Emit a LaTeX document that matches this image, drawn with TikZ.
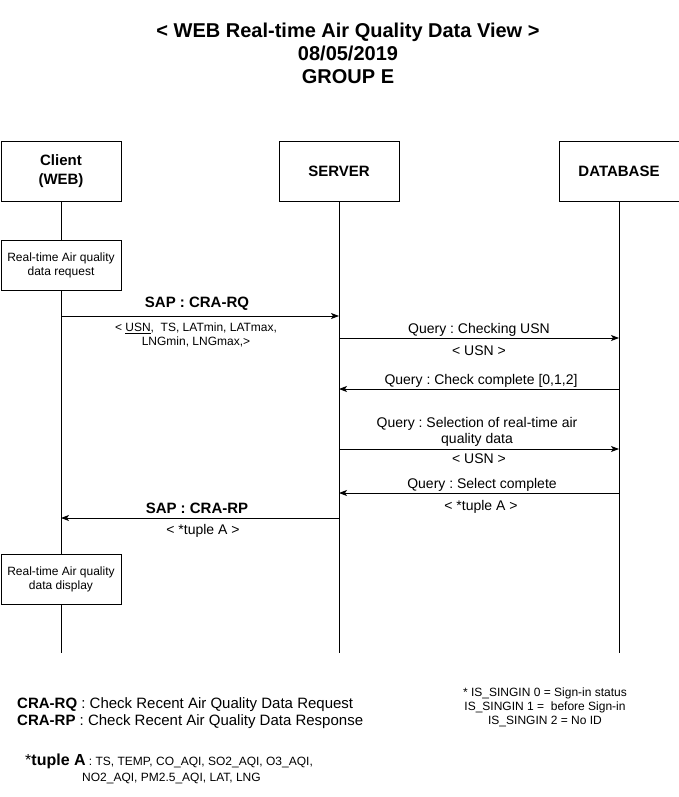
\documentclass[tikz,border=0pt]{standalone}
\usepackage{fontspec}
\setmainfont{Liberation Sans}
\frenchspacing
\usetikzlibrary{arrows.meta,positioning}
\tikzstyle{entity} = [draw, line width=0.8pt, minimum width=120pt, minimum height=60pt, align=center, font=\fontsize{15}{19}\selectfont\bfseries]
\tikzstyle{action} = [draw, line width=0.8pt, fill=white, minimum width=120pt, minimum height=50pt, align=center, font=\fontsize{12}{14}\selectfont]
\tikzstyle{arrow} = [draw, line width=0.8pt, -{Stealth[length=8pt, width=6pt, inset=2pt]}]
\tikzstyle{line} = [draw, line width=0.8pt]
\tikzstyle{msg} = [inner sep=0pt, align=center, font=\fontsize{14}{16}\selectfont]
\tikzstyle{sap} = [inner sep=0pt, font=\fontsize{15}{17}\selectfont\bfseries]
\tikzstyle{param} = [inner sep=0pt, align=center, font=\fontsize{12}{14}\selectfont]

\begin{document}
\begin{tikzpicture}[x=1pt, y=-1pt]
      \useasboundingbox (0,0) rectangle (679,797);

      \node[align=center, font=\fontsize{20}{23}\selectfont\bfseries] (title) at (348,53)
            {< WEB Real-time Air Quality Data View >\\08/05/2019\\GROUP E};

      % lifelines
      \node[entity] (client) at (61,171) {Client\\(WEB)};
      \node[entity] (server) at (339,171) {SERVER};
      \node[entity] (database) at (619,171) {DATABASE};
      \coordinate (clientend) at (61,653);
      \coordinate (serverend) at (339,653);
      \coordinate (dbend) at (619,653);
      \path[line] (client) -- (clientend);
      \path[line] (server) -- (serverend);
      \path[line] (database) -- (dbend);

      \node[action] (reqbox) at (61,265) {Real-time Air quality\\data request};
      \node[action] (dispbox) at (61,579) {Real-time Air quality\\data display};

      % messages
      \coordinate (rqa) at (61,316);  \coordinate (rqb) at (339,316);
      \coordinate (cua) at (339,338); \coordinate (cub) at (619,338);
      \coordinate (cca) at (619,389); \coordinate (ccb) at (339,389);
      \coordinate (sea) at (339,449); \coordinate (seb) at (619,449);
      \coordinate (sca) at (619,493); \coordinate (scb) at (339,493);
      \coordinate (rpa) at (339,518); \coordinate (rpb) at (61,518);

      \path[arrow] (rqa) -- (rqb);
      \path[arrow] (cua) -- (cub);
      \path[arrow] (cca) -- (ccb);
      \path[arrow] (sea) -- (seb);
      \path[arrow] (sca) -- (scb);
      \path[arrow] (rpa) -- (rpb);

      \node[sap] (rqlabel) at (197,304) {SAP : CRA-RQ};
      \node[param] (rqparam) at (196,335) {< \underline{USN},~ TS, LATmin, LATmax,\\LNGmin, LNGmax,>};
      \node[msg] (culabel) at (479,330) {Query : Checking USN};
      \node[msg] (cuparam) at (479,351) {< USN >};
      \node[msg] (cclabel) at (481,381) {Query : Check complete [0,1,2]};
      \node[msg] (selabel) at (477,432) {Query : Selection of real-time air\\quality data};
      \node[msg] (separam) at (479,459) {< USN >};
      \node[msg] (sclabel) at (482,485) {Query : Select complete};
      \node[msg] (scparam) at (481,507) {< *tuple A >};
      \node[sap] (rplabel) at (197,508) {SAP : CRA-RP};
      \node[msg] (rpparam) at (203,531) {< *tuple A >};

      % notes
      \node[anchor=west, inner sep=0pt, font=\fontsize{15}{17}\selectfont] (rqnote) at (17,705)
            {\textbf{CRA-RQ} : Check Recent Air Quality Data Request};
      \node[anchor=west, inner sep=0pt, font=\fontsize{15}{17}\selectfont] (rpnote) at (17,722)
            {\textbf{CRA-RP} : Check Recent Air Quality Data Response};
      \node[anchor=base west, inner sep=0pt, font=\fontsize{12}{14}\selectfont] (tuplenote) at (25,765)
            {{\fontsize{16}{18}\selectfont *\textbf{tuple A}} : TS, TEMP, CO\_AQI, SO2\_AQI, O3\_AQI,};
      \node[anchor=base west, inner sep=0pt, font=\fontsize{12}{14}\selectfont] (tuplenote2) at (82,781)
            {NO2\_AQI, PM2.5\_AQI, LAT, LNG};
      \node[align=center, inner sep=0pt, font=\fontsize{12}{14}\selectfont] (signnote) at (545,707)
            {* IS\_SINGIN 0 = Sign-in status\\IS\_SINGIN 1 = ~before Sign-in\\IS\_SINGIN 2 = No ID};
\end{tikzpicture}
\end{document}
